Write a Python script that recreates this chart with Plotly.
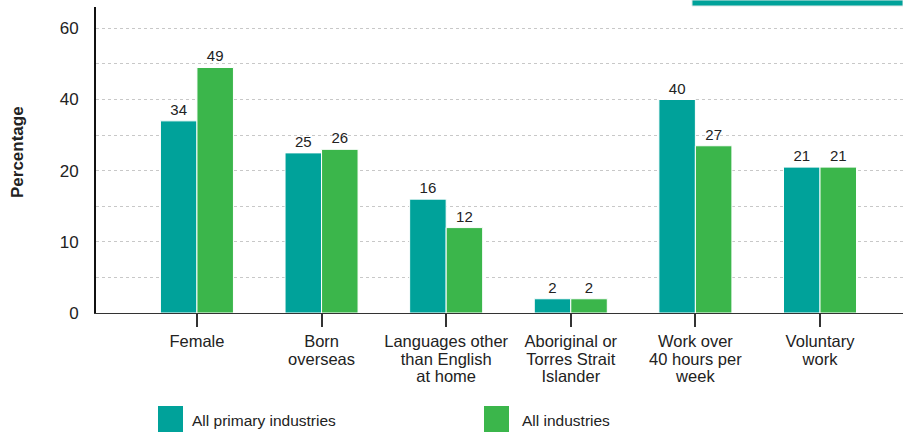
import plotly.graph_objects as go

categories = ["Female", "Born<br>overseas", "Languages other<br>than English<br>at home",
              "Aboriginal or<br>Torres Strait<br>Islander", "Work over<br>40 hours per<br>week",
              "Voluntary<br>work"]
series_names = ["All primary industries", "All industries"]
primary = [34, 25, 16, 2, 40, 21]
all_ind = [49, 26, 12, 2, 27, 21]
tick_values = [0, 10, 20, 40, 60]
grid_values = [0, 5, 10, 15, 20, 30, 40, 50, 60]
y_title = "Percentage"

TEAL = "#00A29A"
GREEN = "#3BB64B"
FONT = "Liberation Sans, Arial, sans-serif"


def scale(v):
    # piecewise axis used by the original chart: 0-20 full scale, 20-60 half scale
    return v if v <= 20 else 20 + (v - 20) / 2


def big(label, px=16.5):
    # larger glyphs with tighter line spacing than plotly's default
    return "<br>".join(f'<span style="font-size:{px}px">{p}</span>' for p in label.split("<br>"))


fig = go.Figure()
for name, vals, col in [(series_names[0], primary, TEAL), (series_names[1], all_ind, GREEN)]:
    fig.add_trace(go.Bar(
        x=categories, y=[scale(v) for v in vals], name=name,
        marker=dict(color=col, line=dict(color="white", width=1)),
        text=[str(v) for v in vals], textposition="outside",
        textfont=dict(family=FONT, size=15, color="#222"),
        cliponaxis=False, showlegend=False, hoverinfo="skip",
    ))

fig.update_layout(
    width=903, height=432,
    margin=dict(l=96, r=0, t=7, b=119),
    paper_bgcolor="white", plot_bgcolor="white",
    barmode="group", bargap=0.414, bargroupgap=0,
    font=dict(family=FONT, size=15, color="#222"),
    xaxis=dict(
        range=[-0.81, 5.666], showgrid=False,
        tickvals=categories, ticktext=[big(c) for c in categories],
        showline=True, linecolor="#333", linewidth=1,
        ticks="outside", ticklen=13, tickcolor="#333", tickwidth=1.5,
        tickfont=dict(size=13.4, color="#222"), ticklabelstandoff=4,
    ),
    yaxis=dict(
        range=[0, 43],
        tickvals=[scale(v) for v in tick_values],
        ticktext=[str(v) for v in tick_values],
        tickfont=dict(size=17, color="#222"),
        ticks="outside", ticklen=12, tickcolor="rgba(0,0,0,0)",
        showgrid=True, gridcolor="#c8c8c8", griddash="3px,3px", gridwidth=1,
        minor=dict(tickvals=[scale(v) for v in grid_values], showgrid=True,
                   gridcolor="#c8c8c8", griddash="3px,3px", gridwidth=1),
        showline=True, linecolor="#111", linewidth=2,
        zeroline=False,
    ),
)

fig.add_annotation(text=f"<b>{y_title}</b>", xref="paper", yref="paper",
                   x=(17 - 96) / 807, y=(313 - 152) / 306, textangle=-90,
                   xanchor="center", yanchor="middle", showarrow=False,
                   font=dict(family=FONT, size=17, color="#222"))

# top-right header band (clipped in original)
fig.add_shape(type="rect", xref="paper", yref="paper",
              x0=(692 - 96) / 807, x1=1.0, y0=1 + 1 / 306, y1=1 + 7 / 306,
              fillcolor=TEAL, line=dict(color="#dfe9e8", width=1), layer="above")

# custom legend below the chart (box left edge, text left edge in pixels)
legend_box_px = [158, 484]
legend_text_px = [190, 520]
for name, col, bx, tx in zip(series_names, [TEAL, GREEN], legend_box_px, legend_text_px):
    fig.add_shape(type="rect", xref="paper", yref="paper",
                  x0=(bx - 96) / 807, x1=(bx + 25 - 96) / 807,
                  y0=-(406 - 313 + 26) / 306, y1=-(406 - 313) / 306,
                  fillcolor=col, line=dict(width=0))
    fig.add_annotation(text=name, xref="paper", yref="paper",
                       x=(tx - 96) / 807, y=-(420 - 313) / 306,
                       xanchor="left", yanchor="middle", showarrow=False,
                       font=dict(family=FONT, size=15.5, color="#222"))

fig.write_html("out.html", config={"displayModeBar": False},
               post_script="document.body.style.margin='0';")
